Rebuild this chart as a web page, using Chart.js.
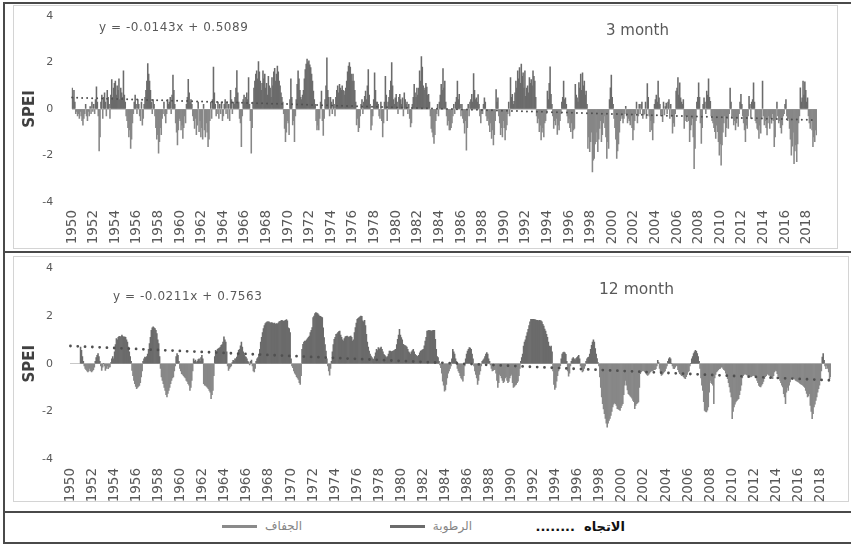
<!DOCTYPE html>
<html><head><meta charset="utf-8">
<script src="https://cdn.jsdelivr.net/npm/chart.js@4.4.1/dist/chart.umd.min.js"></script>
<style>
html,body{margin:0;padding:0;background:#fff;}
#wrap{position:relative;width:851px;height:548px;overflow:hidden;font-family:"DejaVu Sans",sans-serif;background:#fff;}
canvas{position:absolute;left:0;}
.t{position:absolute;white-space:nowrap;line-height:1;color:#595959;}
.dk{position:absolute;background:#4a4a4a;}
.lt{position:absolute;border:1px solid #d4d4d4;box-sizing:border-box;}
.lg{position:absolute;white-space:pre;line-height:1;font-family:"DejaVu Sans",sans-serif;}
.ln{position:absolute;height:3px;}
</style>
</head><body>
<div id="wrap">
  <div class="lt" style="left:13px;top:5px;width:825px;height:244px;"></div>
  <div class="lt" style="left:13px;top:256px;width:836px;height:246px;"></div>
  <div class="dk" style="left:3px;top:2px;width:848px;height:1.5px;"></div>
  <div class="dk" style="left:3px;top:2px;width:1.5px;height:542px;"></div>
  <div class="dk" style="left:3px;top:251px;width:848px;height:1.5px;"></div>
  <div class="dk" style="left:3px;top:511px;width:848px;height:1.5px;"></div>
  <div class="dk" style="left:3px;top:542px;width:848px;height:1.5px;"></div>

  <canvas id="c3" width="851" height="250" style="top:0;width:851px;height:250px;"></canvas>
  <canvas id="c12" width="851" height="259" style="top:251px;width:851px;height:259px;"></canvas>

  <div class="t" id="eq3" style="left:99px;top:20.5px;font-size:12px;letter-spacing:0.55px;"></div>
  <div class="t" id="ttl3" style="left:606px;top:23.3px;font-size:15px;"></div>
  <div class="t" id="eq12" style="left:113px;top:290px;font-size:12px;letter-spacing:0.55px;"></div>
  <div class="t" id="ttl12" style="left:599px;top:282px;font-size:15.5px;"></div>

  <div class="lg" id="lgTrend" style="right:226px;top:520px;color:#111;font-size:13px;font-weight:bold;" dir="rtl"></div>
  <div class="lg" id="lgWet" style="right:379px;top:520px;color:#858585;font-size:12px;" dir="rtl"></div>
  <div class="ln" style="left:390px;top:525px;width:35px;background:#6b6b6b;"></div>
  <div class="lg" id="lgDry" style="right:549px;top:520px;color:#858585;font-size:12px;" dir="rtl"></div>
  <div class="ln" style="left:222px;top:525px;width:35px;background:#8a8a8a;"></div>
</div>
<script>
// ---- data ----
const firstYear = 1950;
const lastYear = 2018;
const yearTicks = ['1950','1952','1954','1956','1958','1960','1962','1964','1966','1968','1970','1972','1974','1976','1978','1980','1982','1984','1986','1988','1990','1992','1994','1996','1998','2000','2002','2004','2006','2008','2010','2012','2014','2016','2018'];
const seriesNames = ['الاتجاه', 'الرطوبة', 'الجفاف'];
const panelTitles = ['3 month', '12 month'];
const trendEquations = ['y = -0.0143x + 0.5089', 'y = -0.0211x + 0.7563'];
const trend3 = [0.49, -0.48];
const trend12 = [0.74, -0.70];

// SPEI-3, monthly, one row per year 1950..2018
const spei3 = [
0.9,0.5,0.8,0.3,-0.2,-0.1,-0.3,-0.2,-0.4,-0.1,-0.3,-0.5,
-0.7,-0.4,-0.2,0.2,-0.3,-0.5,-0.1,-0.3,0.1,-0.2,0.3,-0.1,
0.2,-0.2,0.4,0.95,0.3,-0.3,-1.8,-1.2,0.3,0.6,-0.4,0.5,
0.7,0.3,-0.3,0.8,0.5,0.2,-0.4,0.6,1.27,0.5,0.9,1.1,
1.2,0.6,1.0,0.8,1.3,0.4,0.9,0.7,0.5,1.64,0.6,0.3,
-0.3,-0.5,-0.8,-1.2,-0.9,-1.7,-1.3,-0.6,-0.2,0.3,0.6,0.2,
-0.2,0.4,0.2,-0.3,-0.5,0.3,-0.7,-0.4,0.2,0.5,0.8,1.2,
1.95,1.5,1.2,0.8,0.3,-0.2,0.4,0.2,-0.3,-0.8,-1.3,-1.1,
-1.9,-1.4,-0.8,-1.1,-0.4,-0.2,0.3,-0.3,-0.6,-0.2,0.4,0.2,
0.3,0.5,-0.2,0.6,1.46,0.8,0.2,-0.6,-1.0,-1.55,-0.9,-0.4,
-0.5,-0.9,-0.7,-1.26,-0.8,-0.3,-0.6,0.2,0.5,1.28,0.7,0.3,
0.4,0.2,-0.3,-0.5,-0.83,-0.4,-1.1,-0.7,0.3,-0.97,-0.5,-1.2,
-0.8,-1.3,0.2,-0.9,-1.2,-0.6,-1.0,-1.62,-1.3,-0.5,0.3,-0.4,
0.4,1.8,0.7,0.2,-0.3,-0.2,0.3,-0.4,0.2,-0.2,0.3,-0.5,
-0.3,0.2,0.4,-0.2,0.3,-0.4,0.2,-0.5,0.8,0.4,-0.2,0.3,
0.2,0.5,0.9,1.65,0.7,0.3,-0.4,-0.6,-1.62,-0.3,0.4,0.6,
0.3,0.5,0.7,0.4,1.35,0.2,-0.5,-1.9,-0.8,0.3,0.9,1.2,
1.5,1.64,1.3,2.04,1.6,1.2,0.8,1.1,1.64,1.3,1.5,0.9,
1.1,0.6,1.4,1.0,0.9,0.5,1.35,1.0,1.6,1.75,1.2,1.5,
1.85,1.6,1.2,1.0,0.7,0.5,0.3,-0.2,-0.83,-1.4,-1.0,-0.5,
-0.6,-1.1,0.4,1.3,0.5,-0.68,-0.5,-1.4,-0.3,0.4,1.06,1.64,
1.3,0.8,0.5,0.4,0.6,0.8,1.3,1.7,1.93,2.15,2.0,2.07,
1.9,1.78,1.5,1.2,0.77,0.4,0.2,-0.5,-0.9,-0.7,-0.9,-0.4,
0.3,0.77,-0.5,-1.14,-0.4,0.4,1.0,2.2,0.8,0.5,-0.3,0.5,
0.3,-0.2,0.4,0.2,-0.3,0.5,0.8,1.0,0.7,1.06,0.9,0.8,
1.0,0.8,0.77,0.6,0.9,1.2,1.6,1.85,2.0,1.8,1.5,1.2,
1.5,1.2,0.8,0.3,-0.68,-0.4,-0.97,-0.8,-0.3,0.2,0.4,-0.2,
0.3,0.55,0.77,0.4,1.0,1.7,0.6,0.2,-0.9,-0.7,-0.3,0.4,
1.56,0.8,0.3,0.3,0.2,-0.3,-0.4,0.3,-0.5,-1.2,-0.6,0.3,
1.4,0.6,-0.5,0.3,0.5,0.8,1.2,2.0,1.0,0.4,0.2,0.48,
0.63,0.3,-0.2,0.5,0.63,0.4,0.2,0.48,-0.3,0.7,0.4,0.2,
0.3,-0.2,0.2,-0.4,-0.77,-0.6,0.2,0.5,1.06,0.7,0.5,0.9,
0.6,0.9,1.64,1.2,2.26,1.8,1.0,0.8,0.9,1.1,0.94,0.6,
0.63,0.3,-0.3,-0.83,-1.0,-1.2,-1.48,-1.1,-0.5,-0.2,0.2,-0.3,
0.3,0.6,1.06,0.8,1.74,0.9,1.2,0.3,-0.3,-0.7,-0.5,-0.9,
-0.9,-0.8,-0.6,-0.3,0.2,-0.2,0.3,0.5,1.2,0.4,0.63,0.2,
-0.3,0.2,-0.4,-0.6,-1.04,-0.5,-1.77,-0.8,0.2,-0.3,0.3,0.4,
0.63,0.3,1.52,0.8,0.4,0.48,0.3,0.62,0.2,-0.3,-0.6,-0.2,
-0.2,0.2,0.48,0.3,-0.3,-0.5,-0.4,-0.7,-0.97,-0.6,-1.26,-0.9,
-1.55,-1.1,-0.5,0.84,0.3,0.48,-0.3,-0.6,-1.1,-0.8,-1.2,-0.5,
-0.8,-1.33,-0.9,-0.68,-0.2,0.3,-0.3,1.35,0.5,0.63,0.2,0.33,
0.7,1.2,0.9,1.64,1.3,1.78,1.1,1.93,1.4,1.56,0.9,1.64,
0.55,0.9,1.0,0.7,1.35,1.1,1.27,1.0,1.64,1.4,1.2,0.5,
-0.3,-0.6,-0.4,-0.97,-0.7,-1.33,-1.0,-0.8,-1.2,-0.6,-0.5,-0.2,
0.77,0.4,1.1,1.81,0.63,0.2,-0.3,-0.83,-0.5,-0.68,-0.4,-1.09,
-0.7,-0.9,-0.5,-0.2,0.3,0.5,1.2,0.4,0.48,0.2,-0.3,-0.6,
-0.4,-0.8,-0.97,-0.6,-1.26,-0.9,-0.83,1.06,0.6,0.48,0.3,1.14,
0.9,1.5,0.8,1.56,1.0,1.2,0.6,0.77,0.2,-1.7,-1.2,-1.84,
-1.4,-1.0,-2.71,-2.2,-2.13,-1.5,-1.4,-1.0,-1.84,-1.3,-0.83,-0.5,
-1.4,-1.1,-0.6,-0.3,-0.8,-1.2,-2.13,-1.4,-1.7,0.4,0.91,1.46,
0.5,0.2,-0.4,-0.8,-1.3,-2.13,-1.8,-1.5,-1.0,-0.5,-0.3,-0.4,
-0.6,-0.4,-0.2,0.12,-0.3,-0.6,-0.4,-0.5,-0.68,-0.3,-0.8,-1.33,
-0.9,-0.5,-0.2,0.3,-0.6,-0.3,0.2,-0.2,0.2,0.3,-0.4,-0.25,
-0.2,0.3,-0.4,1.09,0.5,-0.3,-0.97,-0.5,-0.9,-1.33,-0.6,0.2,
0.4,0.6,0.3,1.2,0.48,0.2,-0.3,-0.2,-0.54,0.3,-0.25,0.1,
0.26,-0.2,0.3,0.4,-0.4,0.2,-0.3,-1.04,-0.6,-0.75,-0.2,0.77,
0.9,1.35,0.6,1.13,0.48,0.3,0.2,0.4,-0.83,-0.3,-0.5,-0.54,
-0.3,-0.5,-1.4,-0.9,-0.68,-0.4,-1.2,-2.57,-1.7,-0.5,0.3,0.5,
1.13,0.5,-0.6,-1.48,-0.8,0.2,0.48,0.3,-0.2,0.77,0.6,1.3,
0.5,0.33,-0.3,-0.5,-0.6,-0.8,-0.97,-1.26,-0.7,-0.97,-1.4,-1.99,
-1.5,-2.42,-1.55,-1.0,-0.6,-0.3,-1.19,-0.8,-0.4,-0.83,-0.2,0.9,
0.3,-0.4,-0.3,-0.68,-0.5,-0.9,-0.6,-0.4,-0.75,-0.2,0.3,0.63,
0.2,-0.3,-0.6,-0.9,-1.4,-0.7,-0.83,-0.3,0.55,0.2,-0.4,0.3,
0.4,1.13,0.3,-0.5,-0.6,-0.83,-0.9,-1.26,-0.7,-1.04,-0.4,1.2,
-0.3,-0.68,-0.5,-0.8,-1.12,-0.6,-0.3,-0.83,-0.4,-0.61,-0.2,-0.5,
-1.62,-1.2,-0.4,0.3,-0.3,-0.6,-0.5,-0.8,-1.04,-0.68,-0.3,-0.2,
0.2,0.4,-0.3,-0.5,-0.4,-0.83,-1.3,-1.99,-1.6,-1.0,-2.35,-1.8,
-1.55,-2.27,-1.5,-0.6,-0.3,0.91,0.3,0.48,1.2,0.6,1.17,0.8,
0.3,0.48,-0.3,-0.6,-0.83,-0.5,-0.9,-1.62,-1.2,-1.4,-0.9,-1.12
];

// SPEI-12, monthly, one row per year 1950..2018
const spei12 = [
null,null,null,null,null,null,null,null,null,null,null,0.7,
0.56,0.3,0.1,-0.1,-0.2,-0.25,-0.3,-0.35,-0.3,-0.2,-0.3,-0.35,
-0.3,-0.25,-0.15,0.1,0.25,0.35,0.42,0.3,0.1,-0.1,-0.28,-0.15,
0.0,-0.1,-0.28,-0.2,-0.1,-0.21,-0.15,-0.14,0.05,0.2,0.3,0.2,
0.5,0.8,1.05,1.0,1.1,1.15,1.1,1.15,1.2,1.15,1.1,1.12,
1.1,1.0,0.9,0.7,0.5,0.3,0.1,-0.28,-0.5,-0.7,-0.84,-0.95,
-1.05,-1.0,-0.95,-0.91,-0.8,-0.56,-0.3,0.1,0.2,0.28,0.25,0.3,
0.4,0.6,0.84,1.1,1.4,1.5,1.54,1.5,1.47,1.4,1.26,1.0,
0.84,0.3,-0.2,-0.56,-0.7,-0.84,-1.0,-1.12,-1.3,-1.4,-1.25,-1.12,
-1.0,-0.84,-0.7,-0.6,-0.56,-0.3,-0.1,0.3,0.42,0.35,0.1,-0.2,
-0.3,-0.42,-0.45,-0.5,-0.56,-0.6,-0.7,-0.75,-0.84,-0.9,-1.12,-1.0,
-0.7,-0.3,0.2,0.1,0.15,0.05,0.1,0.17,0.2,0.1,0.25,0.35,
0.2,-0.84,-0.9,-0.91,-0.95,-1.0,-1.05,-1.12,-1.2,-1.47,-1.3,-1.12,
-0.5,0.3,0.56,0.5,0.6,0.63,0.65,0.7,0.77,0.8,0.9,1.12,
1.0,0.91,0.5,-0.1,-0.28,-0.2,-0.14,-0.1,0.05,0.14,0.1,0.2,
0.2,0.28,0.4,0.56,0.6,0.75,0.9,0.7,0.5,0.35,0.3,0.28,
0.2,0.1,0.05,-0.05,0.1,0.15,-0.1,-0.3,-0.35,-0.2,0.1,0.2,
0.25,0.4,0.6,0.9,1.1,1.3,1.47,1.6,1.68,1.72,1.75,1.75,
1.75,1.72,1.7,1.72,1.7,1.68,1.7,1.65,1.68,1.66,1.7,1.75,
1.78,1.8,1.82,1.8,1.78,1.8,1.82,1.85,1.8,1.5,1.47,1.3,
0.2,-0.1,-0.17,-0.3,-0.4,-0.45,-0.55,-0.6,-0.66,-0.8,-0.87,-0.5,
0.6,0.81,0.9,0.95,0.95,1.0,1.05,1.1,1.16,1.3,1.4,1.51,
1.93,2.0,2.1,2.14,2.12,2.1,2.05,2.0,1.98,1.95,1.93,1.5,
1.09,0.8,0.53,0.2,-0.1,-0.3,-0.48,-0.2,0.1,0.5,0.8,1.02,
1.1,1.23,1.25,1.3,1.35,1.37,1.2,1.1,1.0,0.95,1.05,1.12,
1.15,1.16,1.12,1.1,1.14,1.16,1.1,0.95,1.0,1.3,1.51,1.7,
1.86,1.9,1.93,1.96,2.0,1.98,1.8,1.75,1.82,1.6,1.23,0.9,
0.7,0.53,0.4,0.32,0.25,0.2,0.18,0.3,0.45,0.6,0.55,0.67,
0.6,0.65,0.7,0.6,0.5,0.39,0.35,0.3,0.25,0.3,0.4,0.53,
0.53,0.5,0.52,0.53,0.55,0.58,0.6,0.8,1.02,1.2,1.44,1.2,
1.09,1.0,0.81,0.78,0.76,0.74,0.7,0.6,0.5,0.45,0.39,0.5,
0.55,0.6,0.5,0.39,0.35,0.32,0.3,0.35,0.45,0.53,0.55,0.58,
0.6,0.75,0.95,1.1,1.37,1.38,1.4,1.39,1.38,1.37,1.39,1.4,
1.4,1.02,0.6,0.3,0.25,0.1,-0.05,-0.17,-0.4,-0.73,-0.9,-1.15,
-1.1,-0.87,-0.6,-0.4,-0.3,-0.2,-0.1,0.2,0.6,0.5,0.4,0.2,
0.1,-0.2,-0.3,-0.38,-0.5,-0.6,-0.65,-0.73,-0.5,-0.1,0.2,0.4,
0.53,0.6,0.67,0.65,0.6,0.4,0.2,-0.1,-0.3,-0.45,-0.6,-0.87,
-0.7,-0.45,-0.3,-0.1,0.1,0.15,0.2,0.3,0.4,0.46,0.4,0.2,
0.1,-0.05,-0.2,-0.3,-0.28,-0.25,-0.24,-0.4,-0.7,-1.0,-0.8,-0.45,
-0.5,-0.6,-0.7,-0.8,-0.75,-0.6,-0.55,-0.7,-0.8,-0.75,-0.6,-0.5,
-0.45,-0.8,-1.0,-0.95,-0.9,-0.87,-0.8,-0.73,-0.5,-0.2,0.1,0.25,
0.4,0.74,0.9,1.0,1.16,1.3,1.44,1.6,1.75,1.86,1.86,1.86,
1.86,1.85,1.84,1.82,1.82,1.8,1.82,1.81,1.8,1.75,1.65,1.58,
1.45,1.37,1.23,1.1,0.9,0.74,0.7,0.74,0.5,-0.3,-0.87,-1.08,
-1.0,-0.73,-0.5,-0.3,-0.2,-0.1,0.2,0.4,0.46,0.49,0.45,0.39,
0.1,-0.3,-0.53,-0.4,-0.1,0.1,0.2,0.25,0.2,0.15,0.21,0.25,
0.3,0.35,0.2,-0.1,-0.2,-0.35,-0.3,-0.2,-0.1,0.1,0.2,0.25,
0.28,0.4,0.6,0.77,0.9,1.0,0.9,0.63,0.4,0.21,0.05,-0.1,
-0.56,-1.0,-1.4,-1.68,-1.9,-2.1,-2.3,-2.5,-2.66,-2.5,-2.38,-2.3,
-2.17,-2.0,-1.82,-1.7,-1.65,-1.68,-1.75,-1.89,-1.9,-1.93,-1.96,-1.85,
-1.75,-1.68,-1.3,-0.9,-0.7,-0.9,-1.1,-1.26,-1.3,-1.35,-1.4,-1.45,
-1.54,-1.6,-1.89,-1.75,-1.68,-1.65,-1.61,-1.0,-0.42,-0.35,-0.3,-0.28,
-0.3,-0.35,-0.4,-0.45,-0.49,-0.45,-0.4,-0.35,-0.3,-0.3,-0.28,-0.25,
-0.25,-0.21,-0.1,0.14,0.05,-0.2,-0.35,-0.49,-0.45,-0.4,-0.35,-0.3,
-0.2,-0.1,0.1,0.2,0.25,0.2,0.0,-0.1,-0.2,-0.21,-0.15,-0.07,
-0.1,-0.25,-0.35,-0.42,-0.45,-0.5,-0.49,-0.55,-0.6,-0.63,-0.55,-0.45,
-0.35,-0.3,-0.1,0.0,0.2,0.3,0.42,0.5,0.56,0.52,0.42,0.3,
0.1,-0.2,-0.6,-0.9,-1.12,-1.6,-1.96,-2.0,-2.03,-1.95,-1.82,-1.2,
-0.7,-0.8,-0.84,-0.9,-1.68,-0.6,-0.45,-0.35,-0.3,-0.25,-0.21,-0.2,
-0.15,-0.14,-0.2,-0.25,-0.28,-0.4,-0.5,-0.63,-0.8,-0.98,-1.2,-1.4,
-2.31,-2.0,-1.82,-1.7,-1.61,-1.55,-1.5,-1.47,-1.3,-1.12,-0.9,-0.6,
-0.5,-0.45,-0.42,-0.45,-0.47,-0.49,-0.5,-0.52,-0.56,-0.55,-0.5,-0.49,
-0.5,-0.52,-0.56,-0.7,-0.8,-0.91,-0.95,-0.98,-0.9,-0.84,-0.75,-0.63,
-0.55,-0.5,-0.42,-0.45,-0.48,-0.49,-0.55,-0.6,-0.63,-0.5,-0.35,-0.28,
-0.3,-0.42,-0.5,-0.6,-0.7,-0.8,-0.9,-0.98,-1.26,-1.4,-1.68,-1.2,
-1.0,-1.12,-0.9,-0.77,-0.65,-0.6,-0.56,-0.6,-0.65,-0.7,-0.72,-0.75,
-0.77,-0.8,-0.84,-0.86,-0.88,-0.91,-0.95,-1.0,-1.12,-1.25,-1.4,-1.35,
-1.26,-1.75,-2.0,-2.31,-2.1,-1.82,-1.7,-1.54,-1.4,-1.2,-1.05,-0.9,
-0.7,-0.3,0.28,0.42,0.14,-0.1,-0.21,-0.07,-0.2,-0.35,-0.63,-0.55
];

// ---- text ----
document.getElementById('eq3').textContent = trendEquations[0];
document.getElementById('eq12').textContent = trendEquations[1];
document.getElementById('ttl3').textContent = panelTitles[0];
document.getElementById('ttl12').textContent = panelTitles[1];
document.getElementById('lgTrend').textContent = seriesNames[0] + '  ........';
document.getElementById('lgWet').textContent = seriesNames[1];
document.getElementById('lgDry').textContent = seriesNames[2];

// ---- categories ----
const monthLabels = [];
for (let y = firstYear; y <= lastYear; y++) {
  for (let m = 1; m <= 12; m++) monthLabels.push(y + '-' + String(m).padStart(2, '0'));
}

const WET = '#6b6b6b', DRY = '#878787';

function makeChart(id, values, trend, o) {
  const lastLabel = monthLabels[monthLabels.length - 1];
  return new Chart(document.getElementById(id), {
    type: 'bar',
    data: {
      labels: monthLabels,
      datasets: [
        {
          type: 'line', label: seriesNames[0],
          data: [{x: monthLabels[0], y: trend[0]}, {x: lastLabel, y: trend[1]}],
          borderColor: '#505050', borderWidth: o.dotW, borderDash: [0, o.dotGap],
          borderCapStyle: 'round', pointRadius: 0, fill: false, tension: 0, order: 0
        },
        {
          type: 'bar', label: 'SPEI', data: values,
          backgroundColor: values.map(v => (v !== null && v < 0) ? DRY : WET),
          barPercentage: 1, categoryPercentage: 1, borderWidth: 0, order: 1
        }
      ]
    },
    options: {
      responsive: false, animation: false, maintainAspectRatio: false,
      layout: {padding: {left: o.padL, right: o.padR, top: o.padT, bottom: 0}},
      plugins: {legend: {display: false}, tooltip: {enabled: false}},
      scales: {
        x: {
          type: 'category', offset: true,
          grid: {display: false, drawTicks: false}, border: {display: false},
          ticks: {
            autoSkip: false, maxRotation: 90, minRotation: 90, padding: o.xPad,
            font: {family: 'DejaVu Sans', size: o.xFont}, color: '#595959',
            callback: (v, i) => (i % 24 === 0 ? yearTicks[i / 24] : null)
          },
          afterFit: s => { s.height = o.xH; }
        },
        y: {
          min: -4, max: 4,
          ticks: {stepSize: 2, padding: o.yPad, font: {family: 'DejaVu Sans', size: 11}, color: '#595959'},
          grid: {drawTicks: false, color: c => (c.tick && c.tick.value === 0 ? '#c8c8c8' : 'rgba(0,0,0,0)'), lineWidth: 1},
          border: {display: false},
          title: {display: true, text: 'SPEI', font: {family: 'DejaVu Sans', size: 15, weight: 'bold'}, color: '#404040', padding: {top: 0, bottom: 0}},
          afterFit: s => { s.width = o.yW; s.paddingTop = 0; s.paddingBottom = 0; }
        }
      }
    }
  });
}

makeChart('c3', spei3, trend3, {padL: 21, padR: 34, padT: 16, yW: 50.7, xH: 48, xPad: 8, yPad: 18.5, xFont: 13.5, dotW: 2, dotGap: 5});
makeChart('c12', spei12, trend12, {padL: 21, padR: 20, padT: 17.3, yW: 49, xH: 51, xPad: 9, yPad: 17, xFont: 13.5, dotW: 2.8, dotGap: 7.3});
</script>
</body></html>
